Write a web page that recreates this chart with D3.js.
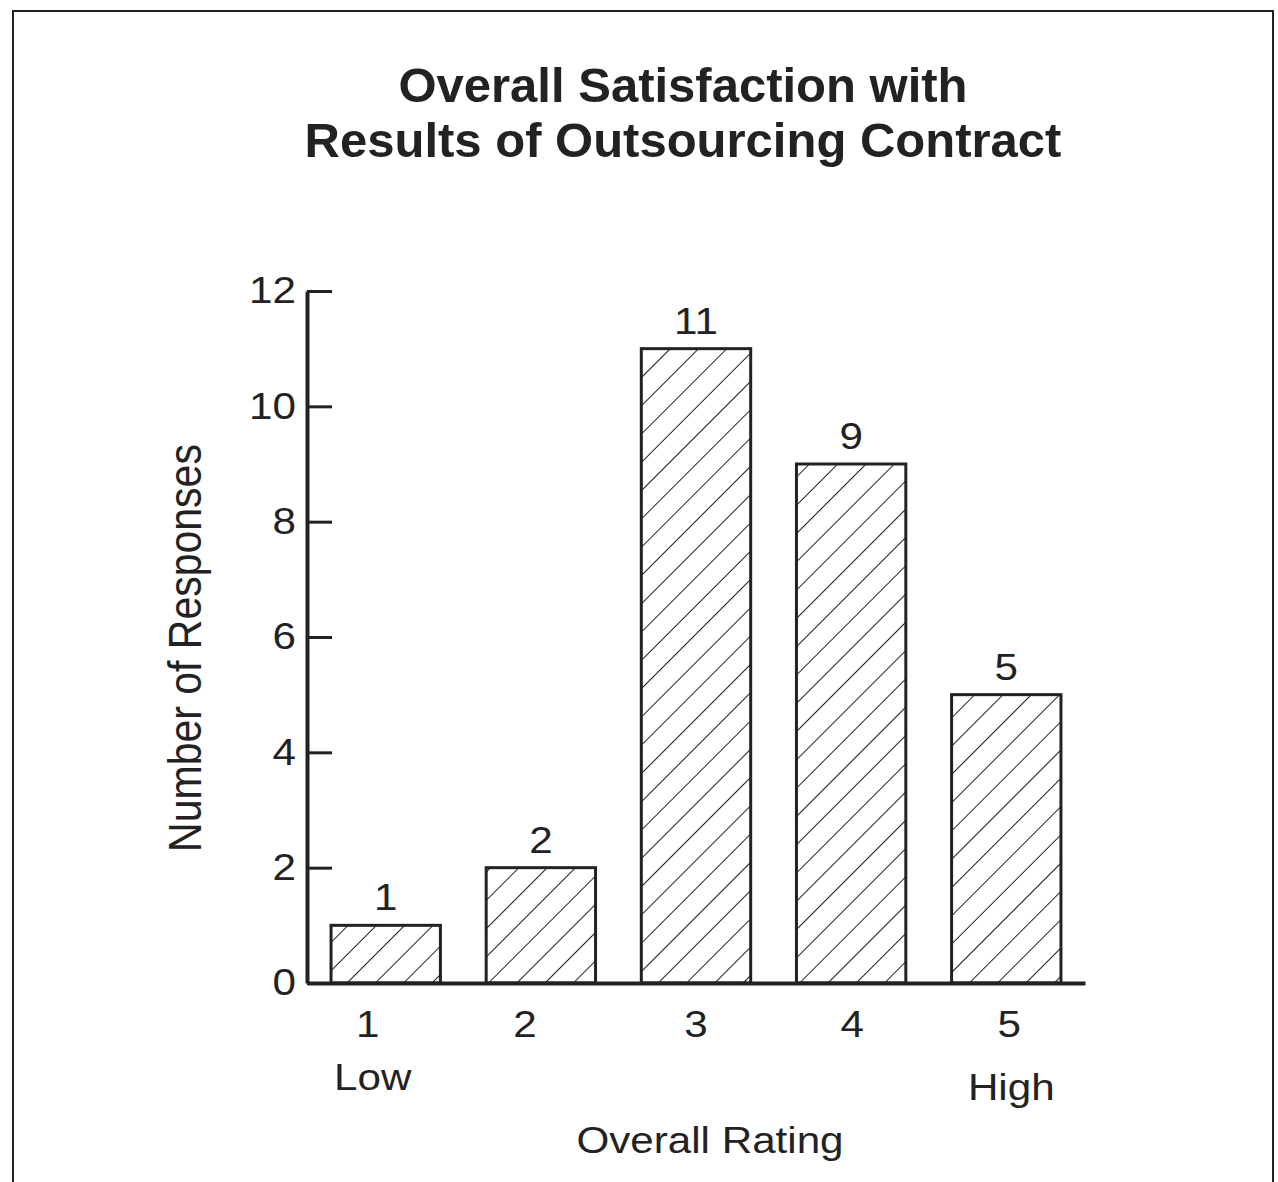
<!DOCTYPE html>
<html>
<head>
<meta charset="utf-8">
<script src="https://cdn.jsdelivr.net/npm/d3@7"></script>
<style>
  html, body { margin: 0; padding: 0; background: #fff; }
  svg { display: block; }
  text { font-family: "Liberation Sans", Arial, Helvetica, sans-serif; fill: #222; }
</style>
</head>
<body>
<svg id="chart" width="1278" height="1182"></svg>
<script>
// Survey results: overall satisfaction with outsourcing contract
const ratings = ["1", "2", "3", "4", "5"];
const responses = [1, 2, 11, 9, 5];
const yTicks = [0, 2, 4, 6, 8, 10, 12];
const scaleEnds = { "1": "Low", "5": "High" };
const titleLines = ["Overall Satisfaction with", "Results of Outsourcing Contract"];
const xTitle = "Overall Rating";
const yTitle = "Number of Responses";

// layout
const ink = "#222";
const stretch = 1.14;                 // labels are set slightly wide
const labelSize = 37;
const tickNudge = [-18, -16, 0, 1, 3]; // hand-placed offsets of category numbers
const endNudge = [-13, 5];
const wide = `scale(${stretch},1)`;

const svg = d3.select("#chart");

// page frame (open at the bottom)
svg.append("path")
  .attr("d", "M13,1182 V11 H1273 V1182")
  .attr("fill", "none")
  .attr("stroke", ink)
  .attr("stroke-width", 2);

// diagonal hatch fill
const defs = svg.append("defs");
const pat = defs.append("pattern")
  .attr("id", "hatch")
  .attr("patternUnits", "userSpaceOnUse")
  .attr("width", 20)
  .attr("height", 20)
  .attr("patternTransform", "rotate(45)");
pat.append("line")
  .attr("x1", 0).attr("y1", 0).attr("x2", 0).attr("y2", 20)
  .attr("stroke", ink).attr("stroke-width", 2);

const x = d3.scaleBand()
  .domain(ratings)
  .range([307, 1085])
  .paddingInner(0.295)
  .paddingOuter(0.155);

const y = d3.scaleLinear()
  .domain([0, 12])
  .range([983, 291]);

// title
svg.append("g").selectAll("text")
  .data(titleLines)
  .join("text")
  .attr("x", 683)
  .attr("y", (d, i) => 102 + i * 55)
  .attr("text-anchor", "middle")
  .attr("font-size", 49)
  .attr("font-weight", "bold")
  .text(d => d);

// bars
svg.append("g").selectAll("rect")
  .data(responses)
  .join("rect")
  .attr("x", (d, i) => x(ratings[i]))
  .attr("y", d => y(d))
  .attr("width", x.bandwidth())
  .attr("height", d => y(0) - y(d))
  .attr("fill", "url(#hatch)")
  .attr("stroke", ink)
  .attr("stroke-width", 3);

// value labels above bars
svg.append("g").selectAll("text")
  .data(responses)
  .join("text")
  .attr("transform", (d, i) =>
    `translate(${x(ratings[i]) + x.bandwidth() / 2},${y(d) - 15}) ${wide}`)
  .attr("text-anchor", "middle")
  .attr("font-size", labelSize)
  .text(d => d);

// y axis: ticks point inward
const yAxis = svg.append("g")
  .attr("transform", "translate(307,0)")
  .call(d3.axisLeft(y).tickValues(yTicks).tickSizeInner(-25).tickSizeOuter(0).tickPadding(11));
yAxis.select(".domain").attr("stroke", ink).attr("stroke-width", 4);
yAxis.selectAll(".tick line").attr("stroke", ink).attr("stroke-width", 3);
yAxis.selectAll(".tick text")
  .attr("x", null)
  .attr("transform", `translate(-11,0) ${wide}`)
  .attr("font-size", labelSize)
  .attr("fill", ink)
  .attr("font-family", "Liberation Sans, Arial, sans-serif");

// x axis: baseline with category numbers
const xAxis = svg.append("g")
  .attr("transform", "translate(0,983)")
  .call(d3.axisBottom(x).tickSize(0).tickPadding(28));
xAxis.select(".domain").attr("stroke", ink).attr("stroke-width", 4);
xAxis.selectAll(".tick text")
  .attr("y", null)
  .attr("transform", (d, i) => `translate(${tickNudge[i]},28) ${wide}`)
  .attr("font-size", labelSize)
  .attr("fill", ink)
  .attr("font-family", "Liberation Sans, Arial, sans-serif");

// Low / High under the scale ends
svg.append("g").selectAll("text")
  .data(Object.entries(scaleEnds))
  .join("text")
  .attr("transform", (d, i) =>
    `translate(${x(d[0]) + x.bandwidth() / 2 + endNudge[i]},${1090 + i * 10}) ${wide}`)
  .attr("text-anchor", "middle")
  .attr("font-size", labelSize)
  .text(d => d[1]);

// axis titles
svg.append("text")
  .attr("transform", `translate(710,1153) ${wide}`)
  .attr("text-anchor", "middle")
  .attr("font-size", labelSize)
  .text(xTitle);

svg.append("text")
  .attr("transform", `translate(201,648) ${wide} rotate(-90)`)
  .attr("text-anchor", "middle")
  .attr("font-size", 41)
  .text(yTitle);
</script>
</body>
</html>
